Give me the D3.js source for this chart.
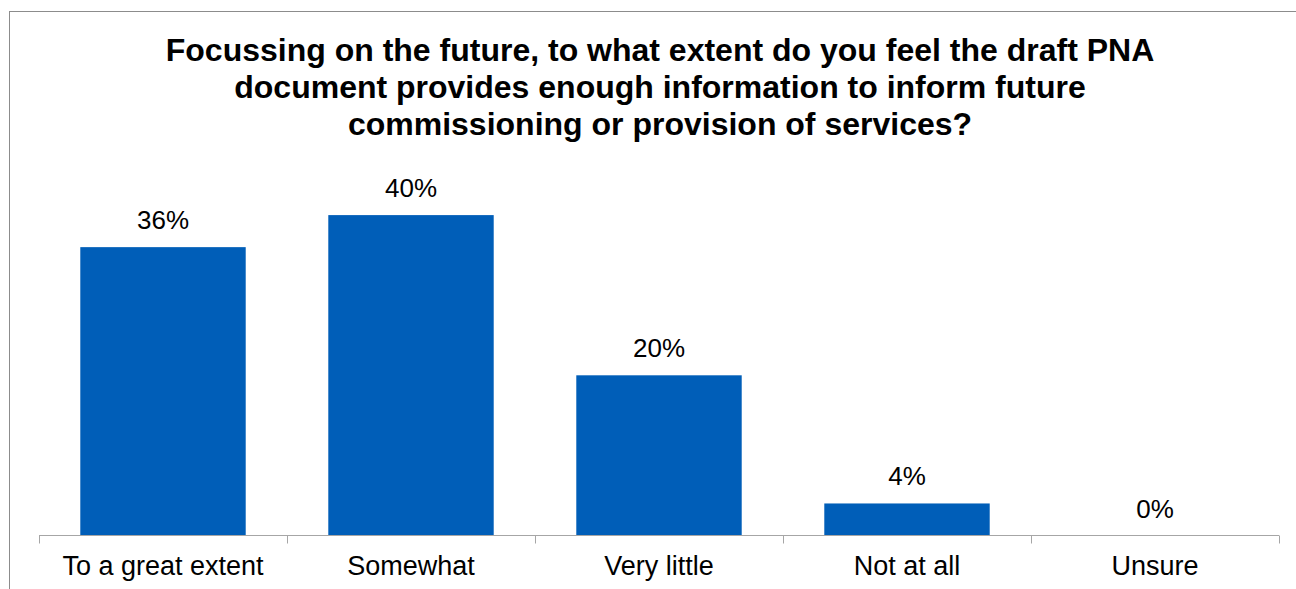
<!DOCTYPE html>
<html><head><meta charset="utf-8">
<script src="https://cdn.jsdelivr.net/npm/d3@7"></script>
<style>body{margin:0;background:#fff}svg{display:block}text{font-family:"Liberation Sans",Arial,sans-serif}</style>
</head><body>
<script>
const categories = ["To a great extent","Somewhat","Very little","Not at all","Unsure"];
const values = [36,40,20,4,0];
const valueLabels = ["36%","40%","20%","4%","0%"];
const titleLines = ["Focussing on the future, to what extent do you feel the draft PNA","document provides enough information to inform future","commissioning or provision of services?"];

const W=1296,H=589;
const svg=d3.select("body").append("svg").attr("width",W).attr("height",H);
svg.append("rect").attr("x",9.5).attr("y",11.5).attr("width",1300).attr("height",600).attr("fill","#fff").attr("stroke","#8c8c8c").attr("stroke-width",1);

const x=d3.scaleBand().domain(categories).range([39,1279]).paddingInner(0.333).paddingOuter(0.1665);
const y=d3.scaleLinear().domain([0,45]).range([535.5,535.5-45*8.01]);

svg.selectAll("rect.bar").data(values).join("rect").attr("class","bar")
 .attr("x",(d,i)=>x(categories[i])).attr("width",x.bandwidth())
 .attr("y",d=>y(d)).attr("height",d=>y(0)-y(d)).attr("fill","#005eb8");

svg.selectAll("text.val").data(values).join("text").attr("class","val")
 .attr("x",(d,i)=>x(categories[i])+x.bandwidth()/2).attr("y",d=>y(d)-18)
 .attr("text-anchor","middle").attr("font-size",26).attr("fill","#000").text((d,i)=>valueLabels[i]);

const axis=d3.axisBottom(d3.scaleLinear().domain([0,5]).range([39,1279])).ticks(5).tickSize(8).tickFormat("");
const gA=svg.append("g").attr("transform","translate(0,535.5)").call(axis);
gA.selectAll("line,path").attr("stroke","#a6a6a6");
gA.select("path").attr("d","M39,0H1279");

svg.selectAll("text.cat").data(categories).join("text").attr("class","cat")
 .attr("x",d=>x(d)+x.bandwidth()/2).attr("y",575).attr("text-anchor","middle")
 .attr("font-size",27).attr("fill","#000").text(d=>d);

svg.append("text").attr("text-anchor","middle").attr("font-weight","bold").attr("font-size",32)
 .selectAll("tspan").data(titleLines).join("tspan").attr("x",660).attr("y",(d,i)=>61+i*37).text(d=>d);
</script>
</body></html>
